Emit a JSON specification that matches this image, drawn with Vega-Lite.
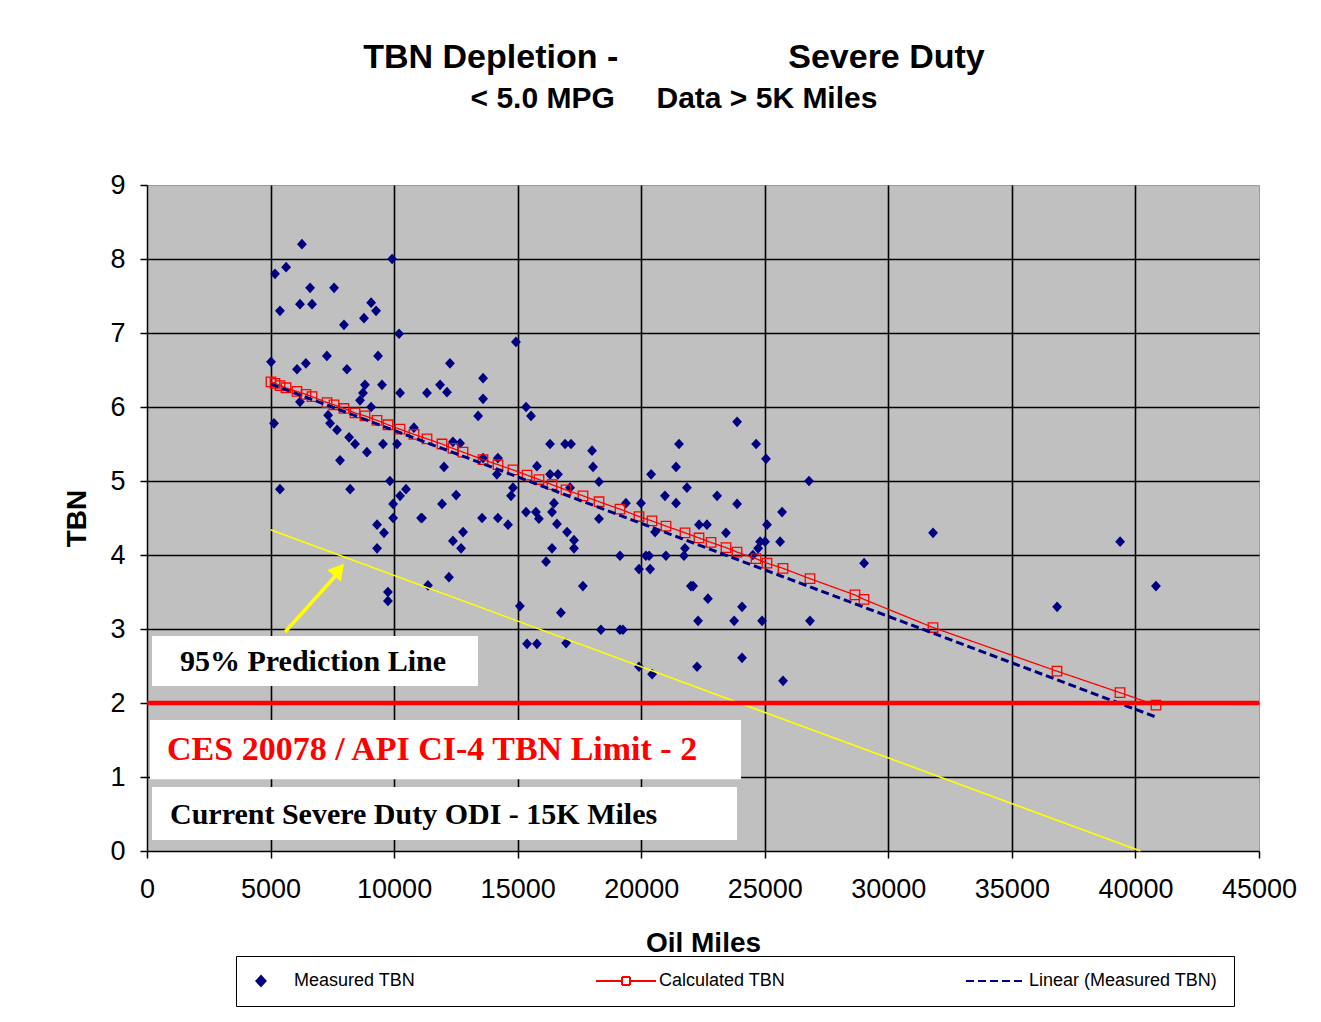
{
  "$schema": "https://vega.github.io/schema/vega-lite/v6.json",
  "autosize": {"type": "none"},
  "padding": {"left": 147, "top": 185, "right": 62, "bottom": 171},
  "width": 1112,
  "height": 666,
  "background": "white",
  "title": {
    "text": "TBN Depletion -\u00a0\u00a0\u00a0\u00a0\u00a0\u00a0\u00a0\u00a0\u00a0\u00a0\u00a0\u00a0\u00a0\u00a0\u00a0\u00a0\u00a0\u00a0Severe Duty",
    "subtitle": "< 5.0 MPG\u00a0\u00a0\u00a0\u00a0\u00a0Data > 5K Miles",
    "font": "Liberation Sans",
    "fontSize": 34,
    "fontWeight": "bold",
    "color": "black",
    "subtitleFont": "Liberation Sans",
    "subtitleFontSize": 30,
    "subtitleFontWeight": "bold",
    "subtitleColor": "black",
    "subtitlePadding": 9,
    "anchor": "middle",
    "dx": -29,
    "offset": 57
  },
  "config": {
    "view": {"fill": "#C0C0C0", "stroke": "#9a9a9a", "strokeWidth": 1},
    "axis": {
      "labelFont": "Liberation Sans",
      "labelFontSize": 27,
      "labelColor": "black",
      "labelFlush": false,
      "titleFont": "Liberation Sans",
      "titleFontSize": 28,
      "titleFontWeight": "bold",
      "titleColor": "black",
      "domainColor": "black",
      "domainWidth": 1.5,
      "tickColor": "black",
      "tickWidth": 1.5,
      "tickSize": 7,
      "grid": true,
      "gridWidth": 1.6
    }
  },
  "datasets": {
    "measured": [
      {"m":5020,"t":6.61},{"m":5180,"t":7.80},{"m":5630,"t":7.89},{"m":5380,"t":7.30},{"m":6270,"t":8.20},
      {"m":5140,"t":5.78},{"m":5380,"t":4.89},{"m":6190,"t":7.39},{"m":6680,"t":7.39},{"m":6600,"t":7.61},
      {"m":7570,"t":7.61},{"m":7970,"t":7.11},{"m":8780,"t":7.20},{"m":9070,"t":7.41},{"m":9270,"t":7.30},
      {"m":9920,"t":8.00},{"m":10200,"t":6.99},{"m":7280,"t":6.69},{"m":6430,"t":6.59},{"m":6070,"t":6.51},
      {"m":8090,"t":6.51},{"m":9350,"t":6.69},{"m":9510,"t":6.30},{"m":8820,"t":6.30},{"m":8740,"t":6.19},
      {"m":8620,"t":6.09},{"m":10240,"t":6.19},{"m":11330,"t":6.19},{"m":9070,"t":6.00},{"m":6190,"t":6.07},
      {"m":7330,"t":5.89},{"m":7410,"t":5.78},{"m":7690,"t":5.69},{"m":8180,"t":5.59},{"m":8420,"t":5.50},
      {"m":8900,"t":5.39},{"m":7810,"t":5.28},{"m":9550,"t":5.50},{"m":10120,"t":5.50},{"m":8220,"t":4.89},
      {"m":9830,"t":5.00},{"m":10480,"t":4.89},{"m":10240,"t":4.80},{"m":9960,"t":4.69},{"m":9960,"t":4.50},
      {"m":9310,"t":4.41},{"m":9590,"t":4.30},{"m":9310,"t":4.09},{"m":11090,"t":4.50},{"m":11370,"t":3.59},
      {"m":9750,"t":3.50},{"m":9750,"t":3.38},{"m":14930,"t":6.88},{"m":12260,"t":6.59},{"m":13600,"t":6.39},
      {"m":11860,"t":6.30},{"m":12140,"t":6.20},{"m":13600,"t":6.11},{"m":13400,"t":5.88},{"m":15340,"t":6.00},
      {"m":15540,"t":5.88},{"m":12380,"t":5.53},{"m":12670,"t":5.51},{"m":16310,"t":5.50},{"m":16920,"t":5.50},
      {"m":17160,"t":5.50},{"m":12020,"t":5.19},{"m":14200,"t":5.31},{"m":13600,"t":5.31},{"m":14160,"t":5.09},
      {"m":15780,"t":5.20},{"m":16310,"t":5.09},{"m":16630,"t":5.09},{"m":14810,"t":4.91},{"m":14730,"t":4.80},
      {"m":12510,"t":4.81},{"m":11940,"t":4.69},{"m":11130,"t":4.50},{"m":13560,"t":4.50},{"m":14200,"t":4.50},
      {"m":14610,"t":4.41},{"m":15340,"t":4.58},{"m":15740,"t":4.58},{"m":15860,"t":4.49},{"m":16470,"t":4.70},
      {"m":16390,"t":4.58},{"m":16590,"t":4.42},{"m":12790,"t":4.31},{"m":12380,"t":4.19},{"m":12710,"t":4.09},
      {"m":16390,"t":4.09},{"m":16150,"t":3.91},{"m":12220,"t":3.70},{"m":15090,"t":3.31},{"m":16750,"t":3.22},
      {"m":15380,"t":2.80},{"m":15780,"t":2.80},{"m":16960,"t":2.81},{"m":18010,"t":5.41},{"m":18050,"t":5.19},
      {"m":21530,"t":5.50},{"m":21410,"t":5.19},{"m":20400,"t":5.09},{"m":18290,"t":4.99},{"m":17120,"t":4.91},
      {"m":20960,"t":4.80},{"m":21850,"t":4.91},{"m":19380,"t":4.70},{"m":19990,"t":4.70},{"m":21410,"t":4.70},
      {"m":18290,"t":4.49},{"m":17000,"t":4.31},{"m":17280,"t":4.20},{"m":17280,"t":4.09},{"m":20560,"t":4.31},
      {"m":22340,"t":4.41},{"m":22660,"t":4.41},{"m":19140,"t":3.99},{"m":20190,"t":3.99},{"m":20320,"t":3.99},
      {"m":21000,"t":3.99},{"m":21730,"t":3.99},{"m":19910,"t":3.81},{"m":20360,"t":3.81},{"m":21770,"t":4.09},
      {"m":17640,"t":3.58},{"m":22010,"t":3.58},{"m":22100,"t":3.58},{"m":22700,"t":3.41},{"m":22300,"t":3.11},
      {"m":18370,"t":2.99},{"m":19140,"t":2.99},{"m":19260,"t":2.99},{"m":19910,"t":2.49},{"m":20440,"t":2.39},
      {"m":22260,"t":2.49},{"m":23880,"t":5.80},{"m":24650,"t":5.50},{"m":25050,"t":5.30},{"m":26790,"t":5.00},
      {"m":23070,"t":4.80},{"m":23880,"t":4.69},{"m":25700,"t":4.58},{"m":25090,"t":4.41},{"m":23430,"t":4.30},
      {"m":25620,"t":4.18},{"m":24810,"t":4.18},{"m":25010,"t":4.18},{"m":24730,"t":4.09},{"m":24520,"t":4.00},
      {"m":29020,"t":3.89},{"m":24080,"t":3.30},{"m":23760,"t":3.11},{"m":24890,"t":3.11},{"m":26830,"t":3.11},
      {"m":24080,"t":2.61},{"m":25740,"t":2.30},{"m":31810,"t":4.30},{"m":36830,"t":3.30},{"m":39380,"t":4.18},
      {"m":40830,"t":3.58},{"m":10800,"t":5.72}
    ],
    "calculated": [
      {"m":5018,"c":6.34},{"m":5180,"c":6.32},{"m":5382,"c":6.29},{"m":5625,"c":6.26},{"m":6070,"c":6.21},
      {"m":6434,"c":6.17},{"m":6677,"c":6.14},{"m":7284,"c":6.06},{"m":7568,"c":6.03},{"m":7972,"c":5.98},
      {"m":8417,"c":5.92},{"m":8822,"c":5.88},{"m":9308,"c":5.82},{"m":9753,"c":5.76},{"m":10238,"c":5.70},
      {"m":10805,"c":5.63},{"m":11331,"c":5.57},{"m":11938,"c":5.50},{"m":12383,"c":5.44},{"m":12788,"c":5.39},
      {"m":13597,"c":5.29},{"m":14204,"c":5.22},{"m":14811,"c":5.15},{"m":15378,"c":5.08},{"m":15863,"c":5.02},
      {"m":16390,"c":4.95},{"m":16956,"c":4.88},{"m":17644,"c":4.80},{"m":18292,"c":4.72},{"m":19141,"c":4.62},
      {"m":19910,"c":4.52},{"m":20436,"c":4.46},{"m":21003,"c":4.39},{"m":21772,"c":4.30},{"m":22338,"c":4.23},
      {"m":22824,"c":4.17},{"m":23431,"c":4.10},{"m":23876,"c":4.04},{"m":24645,"c":3.95},{"m":25090,"c":3.89},
      {"m":25738,"c":3.82},{"m":26830,"c":3.68},{"m":28650,"c":3.46},{"m":29016,"c":3.40},{"m":31808,"c":3.02},
      {"m":36826,"c":2.43},{"m":39375,"c":2.14},{"m":40832,"c":1.97}
    ],
    "trend": [{"m":5018,"v":6.31},{"m":40832,"v":1.81}],
    "prediction": [{"m":5000,"v":4.34},{"m":40200,"v":0}],
    "arrow": [{"m":5585,"v":2.96},{"m":7800,"v":3.78}],
    "arrowhead": [{"m":7770,"v":3.80}],
    "boxes": [
      {"x1":202,"x2":13395,"y1":2.905,"y2":2.23},
      {"x1":121,"x2":24038,"y1":1.77,"y2":0.97},
      {"x1":202,"x2":23876,"y1":0.865,"y2":0.149}
    ],
    "labels": [
      {"m":1335,"v":2.56,"txt":"95% Prediction Line","col":"black","fs":30},
      {"m":809,"v":1.37,"txt":"CES 20078 / API CI-4 TBN Limit - 2","col":"#FF0000","fs":34},
      {"m":931,"v":0.49,"txt":"Current Severe Duty ODI - 15K Miles","col":"black","fs":30}
    ]
  },
  "layer": [
    {
      "data": {"name": "measured"},
      "transform": [{"calculate": "'Measured TBN'", "as": "s"}],
      "mark": {"type": "point", "filled": true, "size": 115, "opacity": 1},
      "encoding": {
        "x": {"field": "m", "type": "quantitative",
          "scale": {"domain": [0, 45000], "nice": false, "zero": false},
          "axis": {"title": "Oil Miles", "values": [0,5000,10000,15000,20000,25000,30000,35000,40000,45000], "format": "d",
            "labelPadding": 18, "titlePadding": 27,
            "gridColor": "black",
            "gridOpacity": {"condition": {"test": "datum.value === 45000 || datum.value === 0", "value": 0}, "value": 1}}},
        "y": {"field": "t", "type": "quantitative",
          "scale": {"domain": [0, 9], "nice": false},
          "axis": {"title": "TBN", "values": [0,1,2,3,4,5,6,7,8,9], "format": "d", "labelPadding": 15, "titlePadding": 18,
            "gridColor": "black",
            "gridOpacity": {"condition": {"test": "datum.value === 9 || datum.value === 0", "value": 0}, "value": 1}}},
        "color": {"field": "s", "type": "nominal",
          "scale": {"domain": ["Measured TBN", "Calculated TBN", "Linear (Measured TBN)"], "range": ["#000080", "#FF0000", "#000080"]},
          "legend": {
            "orient": "none", "legendX": 89, "legendY": 771, "direction": "horizontal",
            "title": null, "padding": 16, "strokeColor": "black", "fillColor": "white",
            "columnPadding": 176, "symbolSize": 100, "labelOffset": 24, "labelLimit": 400,
            "symbolOpacity": 1, "symbolStrokeWidth": 2,
            "labelFont": "Liberation Sans", "labelFontSize": 18, "labelColor": "black"
          }},
        "shape": {"field": "s", "type": "nominal",
          "scale": {"domain": ["Measured TBN", "Calculated TBN", "Linear (Measured TBN)"],
            "range": ["M0,-1L0.92,0L0,1L-0.92,0Z", "M-6,0L-0.8,0M0.8,0L6,0M-0.8,-0.8L0.8,-0.8M0.8,-0.8L0.8,0.8M0.8,0.8L-0.8,0.8M-0.8,0.8L-0.8,-0.8", "M-6,0L6,0"]}}
      }
    },
    {
      "data": {"name": "calculated"},
      "transform": [{"calculate": "'Calculated TBN'", "as": "s"}],
      "mark": {"type": "line", "strokeWidth": 1.3, "point": {"shape": "square", "filled": false, "size": 90, "color": "#FF0000", "strokeWidth": 1.3}},
      "encoding": {
        "x": {"field": "m", "type": "quantitative"},
        "y": {"field": "c", "type": "quantitative"},
        "color": {"field": "s", "type": "nominal"},
        "strokeDash": {"field": "s", "type": "nominal",
          "scale": {"domain": ["Measured TBN", "Calculated TBN", "Linear (Measured TBN)"], "range": [[1, 0], [1, 0], [8, 4]]}}
      }
    },
    {
      "data": {"name": "trend"},
      "transform": [{"calculate": "'Linear (Measured TBN)'", "as": "s"}],
      "mark": {"type": "line", "strokeWidth": 3},
      "encoding": {
        "x": {"field": "m", "type": "quantitative"},
        "y": {"field": "v", "type": "quantitative"},
        "color": {"field": "s", "type": "nominal"},
        "strokeDash": {"field": "s", "type": "nominal"}
      }
    },
    {
      "data": {"name": "prediction"},
      "mark": {"type": "line", "color": "#FFFF00", "strokeWidth": 1.6},
      "encoding": {
        "x": {"field": "m", "type": "quantitative"},
        "y": {"field": "v", "type": "quantitative"}
      }
    },
    {
      "data": {"values": [{"v": 2}]},
      "mark": {"type": "rule", "color": "#FF0000", "strokeWidth": 4.5},
      "encoding": {"y": {"field": "v", "type": "quantitative"}}
    },
    {
      "data": {"name": "arrow"},
      "mark": {"type": "line", "color": "#FFFF00", "strokeWidth": 3.5},
      "encoding": {
        "x": {"field": "m", "type": "quantitative"},
        "y": {"field": "v", "type": "quantitative"}
      }
    },
    {
      "data": {"name": "arrowhead"},
      "mark": {"type": "point", "shape": "triangle-up", "filled": true, "color": "#FFFF00", "size": 320, "angle": 40, "opacity": 1},
      "encoding": {
        "x": {"field": "m", "type": "quantitative"},
        "y": {"field": "v", "type": "quantitative"}
      }
    },
    {
      "data": {"name": "boxes"},
      "mark": {"type": "rect", "color": "white", "opacity": 1},
      "encoding": {
        "x": {"field": "x1", "type": "quantitative"},
        "x2": {"field": "x2"},
        "y": {"field": "y1", "type": "quantitative"},
        "y2": {"field": "y2"}
      }
    },
    {
      "data": {"name": "labels"},
      "mark": {"type": "text", "align": "left", "baseline": "middle", "font": "Liberation Serif", "fontWeight": "bold"},
      "encoding": {
        "x": {"field": "m", "type": "quantitative"},
        "y": {"field": "v", "type": "quantitative"},
        "text": {"field": "txt"},
        "color": {"field": "col", "type": "nominal", "scale": null},
        "size": {"field": "fs", "type": "quantitative", "scale": null}
      }
    }
  ]
}
